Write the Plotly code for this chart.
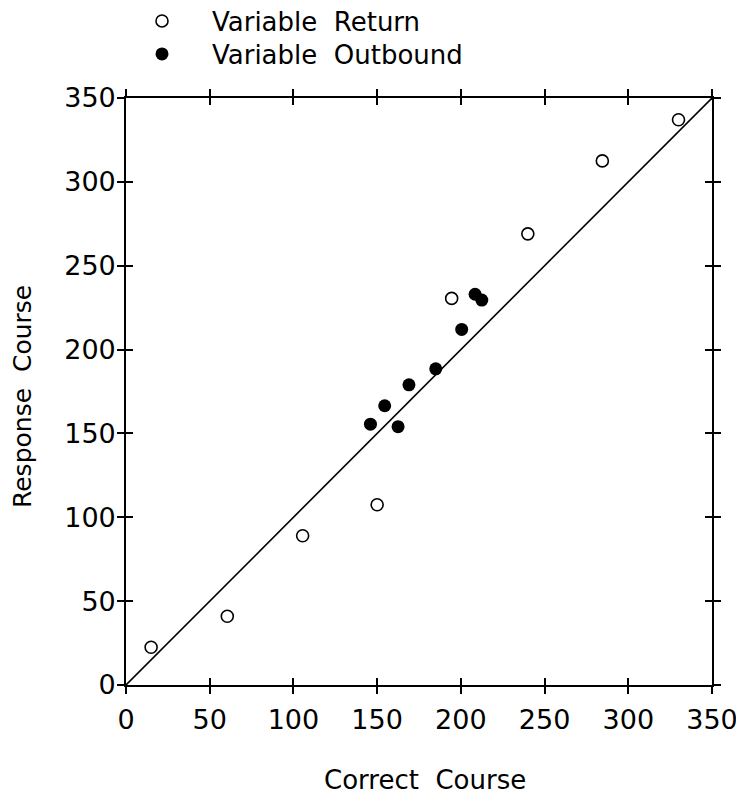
import plotly.graph_objects as go

# ---- data ----
return_x = [15, 60.5, 105.5, 150, 194.5, 240, 284.5, 330]
return_y = [22.5, 41, 89, 107.5, 230.5, 269, 312.5, 337]
outbound_x = [146, 154.5, 162.5, 169, 185, 200.5, 208.5, 212.5]
outbound_y = [155.5, 166.5, 154, 179, 188.5, 212, 233, 229.5]
identity_line = [0, 350]
tick_vals = [0, 50, 100, 150, 200, 250, 300, 350]
tick_text = ["0", "50", "100", "150", "200", "250", "300", "350"]
x_title = "Correct  Course"
y_title = "Response  Course"

FONT = "DejaVu Sans"
FS = 26
TFS = 27

# page body has an 8px margin; figure sized so it ends at the window edge
W, H = 736, 790
L, R, T, B = 118, 32, 90, 113

fig = go.Figure()
fig.add_trace(go.Scatter(x=identity_line, y=identity_line, mode="lines",
                         line=dict(color="black", width=1.6),
                         showlegend=False, hoverinfo="skip"))
fig.add_trace(go.Scatter(x=return_x, y=return_y, mode="markers",
                         name="Variable  Return", legend="legend",
                         marker=dict(symbol="circle-open", size=12, color="black",
                                     line=dict(width=1.6, color="black"))))
fig.add_trace(go.Scatter(x=outbound_x, y=outbound_y, mode="markers",
                         name="Variable  Outbound", legend="legend2",
                         marker=dict(symbol="circle", size=13, color="black")))
# invisible trace to host the inner-tick axes
fig.add_trace(go.Scatter(x=[None], y=[None], xaxis="x2", yaxis="y2",
                         showlegend=False, hoverinfo="skip"))

axis_common = dict(range=[0, 350], tickvals=tick_vals, ticktext=tick_text,
                   showgrid=False, zeroline=False, showline=True,
                   linecolor="black", linewidth=1.6, mirror="ticks",
                   ticks="outside", ticklen=7, tickwidth=1.6, tickcolor="black",
                   tickfont=dict(family=FONT, size=TFS, color="black"))

legend_common = dict(xref="container", yref="container", x=0.1413,
                     xanchor="left", yanchor="middle",
                     bgcolor="rgba(0,0,0,0)", itemwidth=90,
                     font=dict(family=FONT, size=FS, color="black"))

fig.update_layout(
    width=W, height=H,
    margin=dict(l=L, r=R, t=T, b=B, autoexpand=False),
    paper_bgcolor="white", plot_bgcolor="white",
    font=dict(family=FONT, size=FS, color="black"),
    xaxis=dict(**axis_common, ticklabelstandoff=3),
    yaxis=dict(**axis_common, ticklabelstandoff=-4),
    xaxis2=dict(range=[0, 350], tickvals=tick_vals, overlaying="x", side="bottom",
                showticklabels=False, showgrid=False, zeroline=False,
                showline=False, mirror="ticks", ticks="inside", ticklen=7,
                tickwidth=1.6, tickcolor="black"),
    yaxis2=dict(range=[0, 350], tickvals=tick_vals, overlaying="y", side="left",
                showticklabels=False, showgrid=False, zeroline=False,
                showline=False, mirror="ticks", ticks="inside", ticklen=7,
                tickwidth=1.6, tickcolor="black"),
    legend=dict(**legend_common, y=0.9835),
    legend2=dict(**legend_common, y=0.9418),
    showlegend=True,
    annotations=[
        dict(text=x_title, xref="paper", yref="paper", x=0.510, y=-0.1618,
             xanchor="center", yanchor="middle", showarrow=False,
             font=dict(family=FONT, size=26, color="black")),
        dict(text=y_title, xref="paper", yref="paper", x=-0.1775, y=0.4923,
             xanchor="center", yanchor="middle", showarrow=False, textangle=-90,
             font=dict(family=FONT, size=25, color="black")),
    ],
)

fig.write_html("out.html")
